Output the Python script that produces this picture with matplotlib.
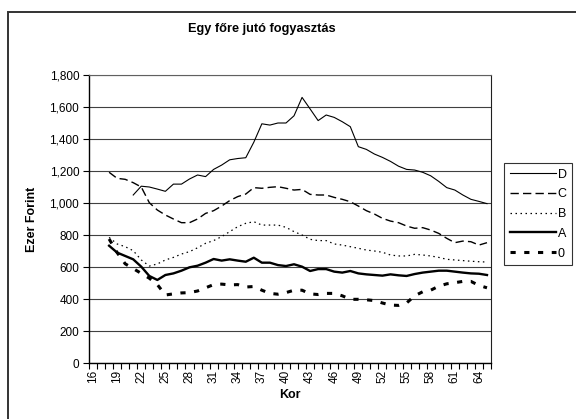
import numpy as np
import matplotlib
matplotlib.use('Agg')
import matplotlib.pyplot as plt
from matplotlib.patches import Rectangle
from matplotlib.ticker import FuncFormatter, MultipleLocator

plt.rcParams['font.family'] = ['Liberation Sans', 'DejaVu Sans']

ages = list(range(16, 66))
nan = np.nan

# values (ages 16..65), ezer forint
d_vals = [nan, nan, nan, nan, nan, 1050, 1105, 1100, 1087, 1073,
          1118, 1118, 1150, 1175, 1165, 1210, 1237, 1270, 1278, 1283,
          1380, 1495, 1487, 1500, 1500, 1545, 1660, 1588, 1515, 1550,
          1535, 1508, 1477, 1352, 1335, 1306, 1285, 1260, 1230, 1210,
          1206, 1192, 1170, 1135, 1096, 1081, 1050, 1023, 1010, 996]
c_vals = [nan, nan, 1192, 1154, 1148, 1127, 1100, 1002, 956, 925,
          900, 877, 877, 900, 935, 952, 981, 1015, 1040, 1056,
          1096, 1092, 1098, 1102, 1092, 1081, 1085, 1054, 1050, 1050,
          1035, 1023, 1008, 981, 952, 931, 904, 887, 877, 856,
          842, 846, 831, 810, 779, 752, 762, 758, 737, 752]
b_vals = [nan, nan, 785, 744, 727, 702, 644, 606, 619, 644,
          660, 681, 696, 720, 748, 765, 790, 821, 852, 873,
          883, 862, 862, 862, 848, 821, 800, 773, 765, 765,
          744, 737, 727, 717, 706, 700, 692, 675, 669, 669,
          679, 675, 669, 660, 648, 644, 640, 636, 633, 631]
a_vals = [nan, nan, 733, 690, 669, 648, 602, 544, 519, 550,
          560, 577, 598, 608, 627, 650, 640, 648, 640, 633,
          658, 627, 627, 612, 606, 617, 602, 575, 587, 587,
          571, 565, 575, 560, 554, 550, 546, 554, 548, 544,
          556, 565, 571, 577, 577, 571, 565, 560, 558, 550]
z_vals = [nan, nan, 775, 690, 620, 590, 560, 530, 490, 425,
          432, 438, 440, 450, 470, 490, 493, 488, 490, 475,
          478, 455, 435, 430, 440, 455, 455, 432, 428, 435,
          435, 420, 398, 398, 395, 390, 375, 362, 360, 375,
          420, 445, 455, 480, 495, 502, 510, 510, 485, 470]

W, H = 576, 419
fig = plt.figure(figsize=(W / 100, H / 100), dpi=100)

# outer chart border (right and bottom fall outside the picture)
fig.patches.append(Rectangle((8 / W, -0.05), 1.2, 1 - 12 / H + 0.05,
                             transform=fig.transFigure, fill=False,
                             edgecolor='#333333', linewidth=1.4))

left, right, top, bottom = 89, 491, 75, 363
ax = fig.add_axes([left / W, 1 - bottom / H, (right - left) / W,
                   (bottom - top) / H])

ax.plot(ages, d_vals, color='black', lw=0.8, label='D')
ax.plot(ages, c_vals, color='black', lw=1.0, dashes=(6, 3), label='C')
ax.plot(ages, b_vals, color='black', lw=0.9, dashes=(1.2, 2.8), label='B')
ax.plot(ages, a_vals, color='black', lw=1.7, label='A')
ax.plot(ages, z_vals, color='black', lw=2.2, dashes=(1.7, 2.8), label='0')

ax.set_xlim(15.5, 65.5)
ax.set_ylim(0, 1800)
ax.yaxis.set_major_locator(MultipleLocator(200))
ax.yaxis.set_major_formatter(FuncFormatter(lambda v, p: f'{int(v):,}'))
ax.grid(axis='y', color='#404040', lw=0.8)
ax.set_axisbelow(True)

ax.set_xticks(list(range(16, 66, 3)))
ax.set_xticklabels([str(a) for a in range(16, 66, 3)], rotation=90)
ax.set_xticks(np.arange(15.5, 66, 1), minor=True)
ax.tick_params(axis='x', which='major', length=0, pad=5, labelsize=8.5)
ax.tick_params(axis='x', which='minor', length=4, width=0.8, direction='out')
ax.tick_params(axis='y', length=4, width=0.8, labelsize=8.5, pad=3)

for s in ['left', 'bottom']:
    ax.spines[s].set_color('black')
    ax.spines[s].set_linewidth(1.0)
ax.spines['top'].set_color('#606060')
ax.spines['right'].set_color('#202020')

ax.set_ylabel('Ezer Forint', fontsize=9, fontweight='bold', labelpad=8)
ax.set_xlabel('Kor', fontsize=9, fontweight='bold', labelpad=4)
fig.text(262 / W, 1 - 29 / H, 'Egy főre jutó fogyasztás',
         ha='center', va='center', fontsize=9.2, fontweight='bold')

leg = fig.legend(loc='upper left', bbox_to_anchor=(504 / W, 1 - 163 / H),
                 fontsize=9, frameon=True, fancybox=False, handlelength=3.7,
                 handletextpad=0.15, labelspacing=0.62, borderpad=0.45,
                 borderaxespad=0)
leg.get_frame().set_edgecolor('black')
leg.get_frame().set_linewidth(0.8)

fig.savefig('out.png', dpi=100)
